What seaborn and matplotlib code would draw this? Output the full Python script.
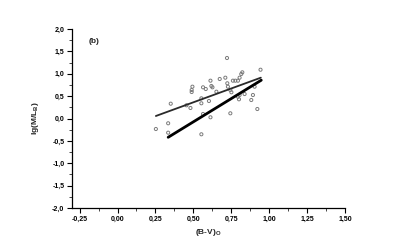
import matplotlib
matplotlib.use("Agg")
import matplotlib.pyplot as plt
import seaborn as sns
import pandas as pd
from matplotlib.ticker import MultipleLocator, FuncFormatter

bv = [0.253, 0.334, 0.334, 0.351, 0.553, 0.489, 0.494, 0.489, 0.481, 0.455,
      0.553, 0.553, 0.603, 0.564, 0.613, 0.564, 0.582, 0.613, 0.619, 0.626,
      0.652, 0.674, 0.711, 0.722, 0.724, 0.728, 0.744, 0.751, 0.744, 0.761,
      0.777, 0.794, 0.805, 0.816, 0.823, 0.794, 0.801, 0.805, 0.838, 0.882,
      0.893, 0.904, 0.922, 0.943]
lgml = [-0.235, -0.107, -0.317, 0.331, -0.353, 0.637, 0.711, 0.592, 0.235, 0.295,
        0.451, 0.340, 0.391, 0.101, 0.027, 0.697, 0.659, 0.845, 0.726, 0.697,
        0.599, 0.883, 0.912, 1.352, 0.787, 0.711, 0.637, 0.586, 0.116, 0.845,
        0.845, 0.845, 0.912, 0.994, 1.032, 0.487, 0.429, 0.525, 0.547, 0.413,
        0.525, 0.711, 0.212, 1.090]

fit_thin_x = [0.253, 0.945]
fit_thin_y = [0.056, 0.912]
fit_thick_x = [0.334, 0.948]
fit_thick_y = [-0.42, 0.856]

xticks = [-0.25, 0.0, 0.25, 0.5, 0.75, 1.0, 1.25, 1.5]
yticks = [-2.0, -1.5, -1.0, -0.5, 0.0, 0.5, 1.0, 1.5, 2.0]

sns.set_style("ticks")
plt.rcParams['font.family'] = ['Liberation Sans', 'DejaVu Sans']

fig = plt.figure(figsize=(4, 2.5), dpi=100)
ax = fig.add_axes([0.18, 0.168, 0.6825, 0.716])

df = pd.DataFrame({"bv": bv, "lg": lgml})
sns.scatterplot(data=df, x="bv", y="lg", ax=ax, marker="o", s=5,
                facecolor="none", edgecolor="#7a7a7a", linewidth=0.7)
sns.lineplot(x=fit_thin_x, y=fit_thin_y, ax=ax, color="#2a2a2a", linewidth=1.3)
sns.lineplot(x=fit_thick_x, y=fit_thick_y, ax=ax, color="black", linewidth=2.0)

ax.set_xlim(-0.3, 1.5)
ax.set_ylim(-2.0, 2.0)
ax.set_xticks(xticks)
ax.set_yticks(yticks)
ax.xaxis.set_minor_locator(MultipleLocator(0.125))
ax.yaxis.set_minor_locator(MultipleLocator(0.25))
ax.xaxis.set_major_formatter(FuncFormatter(lambda v, p: f"{v:.2f}".replace(".", ",")))
ax.yaxis.set_major_formatter(FuncFormatter(lambda v, p: f"{v:.1f}".replace(".", ",")))
ax.tick_params(which="major", direction="out", length=3.5, width=0.8,
               labelsize=5, pad=2, colors="black")
ax.tick_params(which="minor", direction="out", length=2, width=0.6)
for lab in ax.get_xticklabels() + ax.get_yticklabels():
    lab.set_fontweight("bold")
sns.despine(ax=ax)
for sp in ["left", "bottom"]:
    ax.spines[sp].set_linewidth(0.9)
    ax.spines[sp].set_color("black")

ax.set_xlabel(r"(B-V)$_\mathregular{O}$", fontsize=6, fontweight="bold", labelpad=3)
ax.set_ylabel(r"lg(M/L$_\mathregular{B}$)", fontsize=6, fontweight="bold", labelpad=8)
ax.text(0.06, 0.93, "(b)", transform=ax.transAxes, fontsize=6,
        fontweight="bold", va="center", ha="left")

fig.savefig("out.png", dpi=100)
